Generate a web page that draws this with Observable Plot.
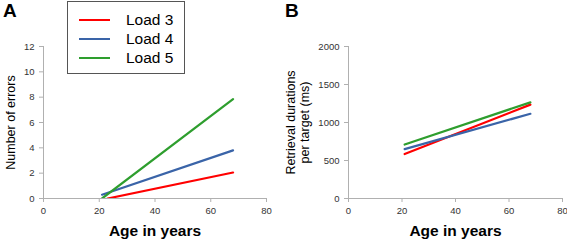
<!DOCTYPE html>
<html><head><meta charset="utf-8">
<script src="https://cdn.jsdelivr.net/npm/d3@7"></script>
<script src="https://cdn.jsdelivr.net/npm/@observablehq/plot@0.6"></script>
<style>
body{margin:0;background:#fff;font-family:"Liberation Sans",Arial,sans-serif;}
#wrap{position:relative;width:567px;height:244px;overflow:hidden;}
.panel{position:absolute;top:0;}
.letter{position:absolute;font-weight:bold;font-size:19px;color:#000;}
#legend{position:absolute;left:67px;top:1px;width:116px;height:71px;border:1.5px solid #555;background:#fff;}
.lg{position:absolute;left:11px;width:31px;height:0;border-top:2.5px solid;}
.lt{position:absolute;left:58px;font-size:15.5px;color:#000;line-height:15px;}
</style></head><body>
<div id="wrap"></div>
<script>
const loads = ["Load 3","Load 4","Load 5"];
const colors = ["#ff0000","#3a64a8","#2e9e2e"];
const ageStart = [23, 21, 21];
const ageEnd = [68, 68, 68];
const errStart = [0, 0.3, 0.0];
const errEnd = [2.05, 3.8, 7.85];
const durAgeStart = [21, 21, 21];
const durStart = [585, 650, 710];
const durEnd = [1235, 1115, 1265];
const xTicks = [0,20,40,60,80];
const yTicksA = [0,2,4,6,8,10,12];
const yTicksB = [0,500,1000,1500,2000];

const errData = loads.flatMap((l,i)=>[{load:l,age:ageStart[i],v:errStart[i]},{load:l,age:ageEnd[i],v:errEnd[i]}]);
const durData = loads.flatMap((l,i)=>[{load:l,age:durAgeStart[i],v:durStart[i]},{load:l,age:ageEnd[i],v:durEnd[i]}]);

const wrap = document.getElementById("wrap");
const tickColor = "#333";
const axisGray = "#b0b0b0";

function panel(data, yDomain, yTicks, ylabel, opts){
  return Plot.plot({
    width: opts.width, height: 244,
    marginLeft: opts.ml, marginRight: opts.mr, marginTop: 46, marginBottom: 46,
    style:{fontFamily:"Liberation Sans, Arial, sans-serif", fontSize:"9.5px", color:tickColor, background:"transparent"},
    x:{domain:[0,80], ticks: xTicks},
    y:{domain:yDomain, ticks: yTicks},
    color:{domain:loads, range:colors},
    marks:[
      Plot.ruleX([0],{stroke:axisGray}),
      Plot.ruleY([yDomain[0]],{stroke:axisGray}),
      Plot.axisX({ticks:xTicks, tickSize:4, stroke:axisGray, fill:tickColor, label:null, tickPadding:5, tickFormat:d3.format("d")}),
      Plot.axisY({ticks:yTicks, tickSize:4, stroke:axisGray, fill:tickColor, label:null, tickPadding:5, tickFormat:d3.format("d")}),
      Plot.line(data,{x:"age", y:"v", z:"load", stroke:"load", strokeWidth:2.2, clip:true}),
      Plot.text([ylabel],{frameAnchor:"left", textAnchor:"middle", rotate:-90, dx:opts.ldx, fontSize:12.5, fill:"#000", lineHeight:1.1}),
      Plot.text(["Age in years"],{frameAnchor:"bottom", dy:37, fontSize:15.5, fontWeight:"bold", fill:"#000"})
    ]
  });
}

const a = panel(errData,[0,12],yTicksA,"Number of errors",{width:283, ml:43, mr:17, ldx:-33});
a.classList.add("panel"); a.style.left="0px";
wrap.appendChild(a);
const b = panel(durData,[0,2000],yTicksB,"Retrieval durations\nper target (ms)",{width:284, ml:65, mr:5, ldx:-51});
b.classList.add("panel"); b.style.left="283px";
wrap.appendChild(b);

function addDiv(cls, text, style){const d=document.createElement("div");d.className=cls;if(text)d.textContent=text;Object.assign(d.style,style);return d;}
wrap.appendChild(addDiv("letter","A",{left:"3px",top:"0px"}));
wrap.appendChild(addDiv("letter","B",{left:"285px",top:"0px"}));
const lg = addDiv("","",{}); lg.id="legend";
loads.forEach((l,i)=>{
  lg.appendChild(addDiv("lg","",{top:(18+19*i-1)+"px",borderTopColor:colors[i]}));
  lg.appendChild(addDiv("lt",l,{top:(11+19*i-1)+"px"}));
});
wrap.appendChild(lg);
</script>
</body></html>
